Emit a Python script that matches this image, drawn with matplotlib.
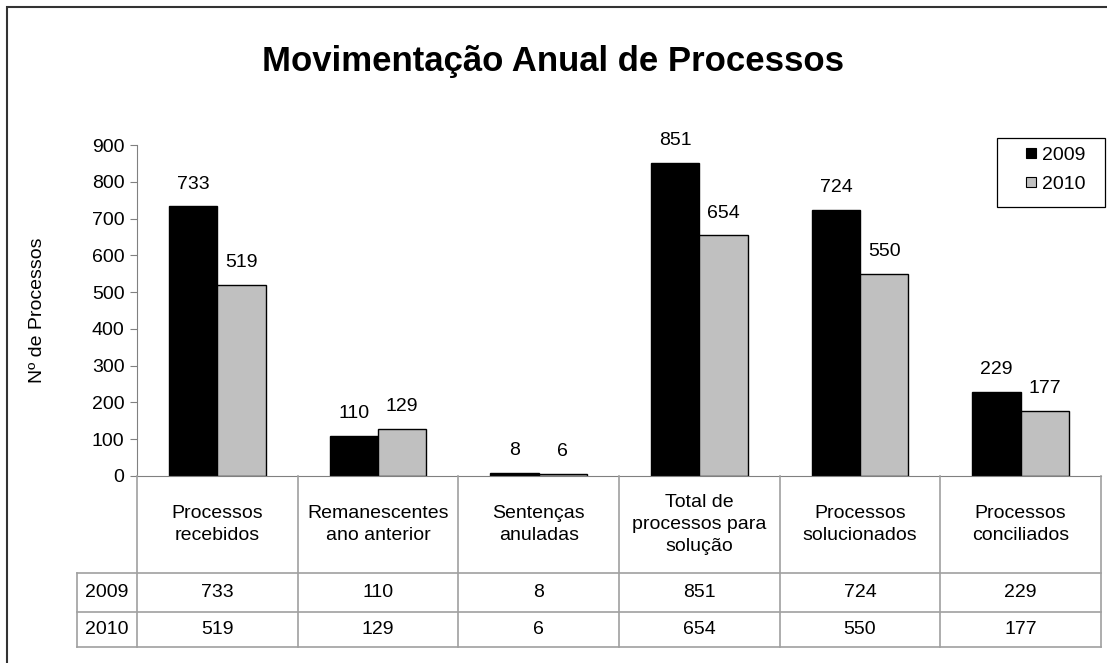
import matplotlib
matplotlib.use("Agg")
import matplotlib.pyplot as plt
from matplotlib.lines import Line2D
from matplotlib.patches import Rectangle

plt.rcParams['font.family'] = ['Liberation Sans', 'DejaVu Sans']

# data
categorias = ['Processos\nrecebidos', 'Remanescentes\nano anterior', 'Sentenças\nanuladas',
              'Total de\nprocessos para\nsolução', 'Processos\nsolucionados', 'Processos\nconciliados']
anos = ['2009', '2010']
v2009 = [733, 110, 8, 851, 724, 229]
v2010 = [519, 129, 6, 654, 550, 177]
cores = ['#000000', '#C0C0C0']

fs = 14
W, H = 1107, 663
fig = plt.figure(figsize=(W / 100, H / 100), dpi=100)

# outer frame (goes past right / bottom like the original crop)
fig.patches.append(Rectangle((7 / W, -0.05), 1.2, (H - 7) / H + 0.05, transform=fig.transFigure,
                             fill=False, edgecolor='#333333', linewidth=1.5))

# pixel layout
x0, x1 = 137, 1101
y_zero, y_top = 476, 145
ax = fig.add_axes([x0 / W, (H - y_zero) / H, (x1 - x0) / W, (y_zero - y_top) / H])

n = len(categorias)
x = list(range(n))
bw = 0.3
ax.bar([i - bw / 2 for i in x], v2009, width=bw, color=cores[0], edgecolor='black', linewidth=1, label=anos[0])
ax.bar([i + bw / 2 for i in x], v2010, width=bw, color=cores[1], edgecolor='black', linewidth=1, label=anos[1])

for i in x:
    ax.annotate(str(v2009[i]), (i - bw / 2, v2009[i]), xytext=(0, 10), textcoords='offset points',
                ha='center', va='bottom', fontsize=fs)
    ax.annotate(str(v2010[i]), (i + bw / 2, v2010[i]), xytext=(0, 10), textcoords='offset points',
                ha='center', va='bottom', fontsize=fs)

ax.set_xlim(-0.5, n - 0.5)
ax.set_ylim(0, 900)
ax.set_yticks(range(0, 901, 100))
ax.tick_params(axis='y', labelsize=fs, length=5, color='#808080', pad=4)
ax.set_xticks([])
for s in ['top', 'right']:
    ax.spines[s].set_visible(False)
ax.spines['left'].set_color('#808080')
ax.spines['bottom'].set_color('#808080')
ax.set_ylabel('Nº de Processos', fontsize=fs)
ax.yaxis.set_label_coords(-0.094, 0.5)

fig.text(0.5, (H - 62) / H, 'Movimentação Anual de Processos', ha='center', va='center',
         fontsize=25, fontweight='bold')

# legend: box drawn separately so it can be wider than its content
fig.patches.append(Rectangle((997 / W, (H - 207) / H), 108 / W, 69 / H, transform=fig.transFigure,
                             fill=False, edgecolor='black', linewidth=0.9))
handles = [Line2D([], [], linestyle='none', marker='s', markersize=7.5, markerfacecolor=c,
                  markeredgecolor='black', markeredgewidth=0.8) for c in cores]
leg = fig.legend(handles, anos, loc='upper left', bbox_to_anchor=(1025 / W, (H - 146) / H),
                 fontsize=fs, frameon=False, handlelength=0.6, handletextpad=0.25,
                 borderpad=0, labelspacing=0.6, borderaxespad=0)

# data table below the chart
hx = 77
rows_y = [476, 573, 612, 647]
tab = fig.add_axes([hx / W, (H - rows_y[-1]) / H, (x1 - hx) / W, (rows_y[-1] - rows_y[0]) / H])
head_w = (x0 - hx) / ((x1 - x0) / n)
tab.set_xlim(-0.5 - head_w, n - 0.5)
tab.set_ylim(rows_y[-1], rows_y[0])
tab.axis('off')
lc = '#A0A0A0'
for k in range(n + 1):
    tab.plot([k - 0.5, k - 0.5], [rows_y[0], rows_y[-1]], color=lc, lw=1.2, clip_on=False)
tab.plot([-0.5 - head_w, -0.5 - head_w], [rows_y[1], rows_y[-1]], color=lc, lw=1.2, clip_on=False)
for yy in rows_y[1:]:
    tab.plot([-0.5 - head_w, n - 0.5], [yy, yy], color=lc, lw=1.2, clip_on=False)

for i in x:
    tab.text(i, (rows_y[0] + rows_y[1]) / 2, categorias[i], ha='center', va='center', fontsize=fs,
             linespacing=1.4)
    tab.text(i, (rows_y[1] + rows_y[2]) / 2, str(v2009[i]), ha='center', va='center', fontsize=fs)
    tab.text(i, (rows_y[2] + rows_y[3]) / 2, str(v2010[i]), ha='center', va='center', fontsize=fs)
for r, ano in enumerate(anos):
    tab.text(-0.5 - head_w / 2, (rows_y[r + 1] + rows_y[r + 2]) / 2, ano, ha='center', va='center',
             fontsize=fs)

fig.savefig('out.png', dpi=100)
